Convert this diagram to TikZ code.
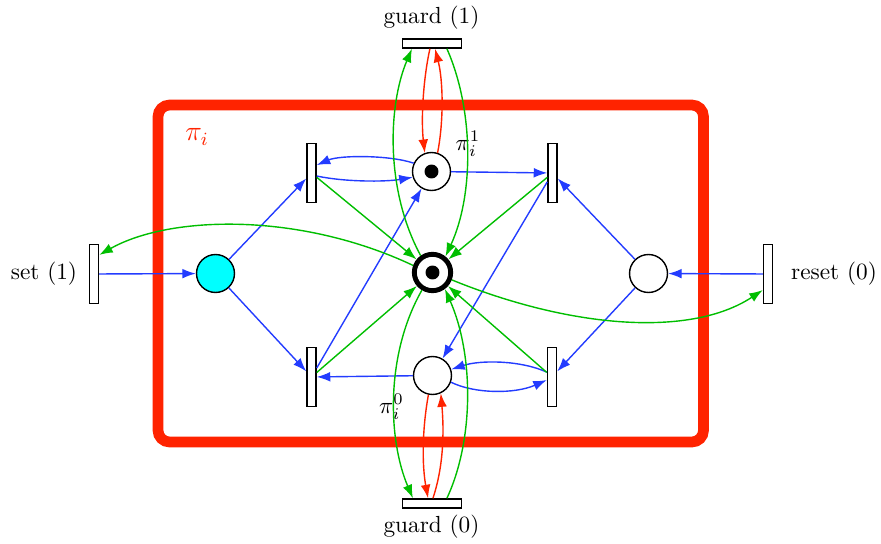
\documentclass[tikz,border=0pt]{standalone}
\usetikzlibrary{arrows.meta}
\definecolor{pnblue}{RGB}{35,60,255}
\definecolor{pngreen}{RGB}{0,190,0}
\definecolor{pnred}{RGB}{255,35,0}
\definecolor{pncyan}{RGB}{0,255,255}
\begin{document}
\begin{tikzpicture}[x=0.4292pt,y=-0.4292pt,
  place/.style={circle,draw,line width=0.6pt,minimum size=16.3pt,inner sep=0pt},
  vtrans/.style={rectangle,draw,fill=white,line width=0.6pt,minimum width=3.9pt,minimum height=25.5pt,inner sep=0pt},
  htrans/.style={rectangle,draw,fill=white,line width=0.6pt,minimum width=25.5pt,minimum height=3.9pt,inner sep=0pt},
  token/.style={circle,fill=black,minimum size=6pt,inner sep=0pt},
  pnarc/.style={line width=0.6pt,-{Latex[length=5.8pt,width=4.2pt]}},
  barc/.style={pnarc,color=pnblue},
  garc/.style={pnarc,color=pngreen},
  rarc/.style={pnarc,color=pnred}]
\useasboundingbox (0,0) rectangle (881,544);
% module frame
\draw[pnred,line width=4.6pt,rounded corners=5pt] (158,105) rectangle (703.5,442);
\node[pnred,font=\large] (pilabel) at (197,137) {$\pi_i$};
% places
\node[place,fill=pncyan] (L) at (215.5,273.5) {};
\node[place] (R) at (648.5,273.5) {};
\node[place] (P1) at (431.5,171.5) {};
\node[place,line width=2.1pt,minimum size=15.6pt] (C) at (432.5,272.5) {};
\node[place] (P0) at (432.5,375.5) {};
\node[token] (tk1) at (P1) {};
\node[token] (tkc) at (C) {};
% transitions
\node[vtrans] (S) at (94,274) {};
\node[vtrans] (RS) at (768,274) {};
\node[vtrans] (UL) at (311.5,173) {};
\node[vtrans] (LL) at (311.5,377) {};
\node[vtrans] (UR) at (552.5,173) {};
\node[vtrans] (LR) at (552,377) {};
\node[htrans] (G1) at (432,43.5) {};
\node[htrans] (G0) at (432,503.5) {};
% labels
\node (G1l) at (431.5,18) {guard (1)};
\node (G0l) at (431.5,527) {guard (0)};
\node (Sl) at (44,274) {set (1)};
\node (RSl) at (834,274) {reset (0)};
\node[inner sep=0pt] (P1l) at (468,144) {$\pi_i^1$};
\node[inner sep=0pt] (P0l) at (391.5,407) {$\pi_i^0$};
% blue arcs
\draw[barc] (S) -- (L);
\draw[barc] (L) -- (UL);
\draw[barc] (L) -- (LL);
\draw[barc] (P1.155) .. controls (390,155) and (340,155) .. ([yshift=3.4pt]UL.east);
\draw[barc] ([yshift=-1.3pt]UL.east) .. controls (345,182) and (385,182) .. (P1.197);
\draw[barc] (LL) -- (P1);
\draw[barc] (P1) -- (UR);
\draw[barc] (UR) -- (P0);
\draw[barc] (R) -- (UR);
\draw[barc] (R) -- (LR);
\draw[barc] (RS) -- (R);
\draw[barc] (P0) -- (LL);
\draw[barc] ([yshift=2.1pt]LR.west) .. controls (520,360) and (480,360) .. (P0.18);
\draw[barc] (P0.-20) .. controls (475,394) and (515,394) .. ([yshift=-1.3pt]LR.west);
% green arcs
\draw[garc] (UL) -- (C);
\draw[garc] (LL) -- (C);
\draw[garc] (UR) -- (C);
\draw[garc] (LR) -- (C);
\draw[garc] (C.125) .. controls (385,190) and (388,105) .. ([xshift=-8.6pt]G1.south);
\draw[garc] ([xshift=6.4pt]G1.south) .. controls (474,110) and (474,195) .. (C.51);
\draw[garc] (C.-121) .. controls (385,355) and (388,440) .. ([xshift=-8.2pt]G0.north);
\draw[garc] ([xshift=6.4pt]G0.north) .. controls (474,440) and (474,355) .. (C.-53);
\draw[garc] (C.160) .. controls (300,212) and (170,215) .. ([yshift=8.2pt]S.east);
\draw[garc] (C.-21) .. controls (570,328) and (690,338) .. ([yshift=-6.9pt]RS.west);
% red arcs
\draw[rarc] ([xshift=-0.9pt]G1.south) .. controls (423,80) and (421,120) .. (P1.110);
\draw[rarc] (P1.72) .. controls (444,120) and (443,80) .. ([xshift=1.3pt]G1.south);
\draw[rarc] (P0.-102) .. controls (422,430) and (422,465) .. ([xshift=-1.7pt]G0.north);
\draw[rarc] ([xshift=0.4pt]G0.north) .. controls (444,465) and (444,430) .. (P0.-65);
\end{tikzpicture}
\end{document}
